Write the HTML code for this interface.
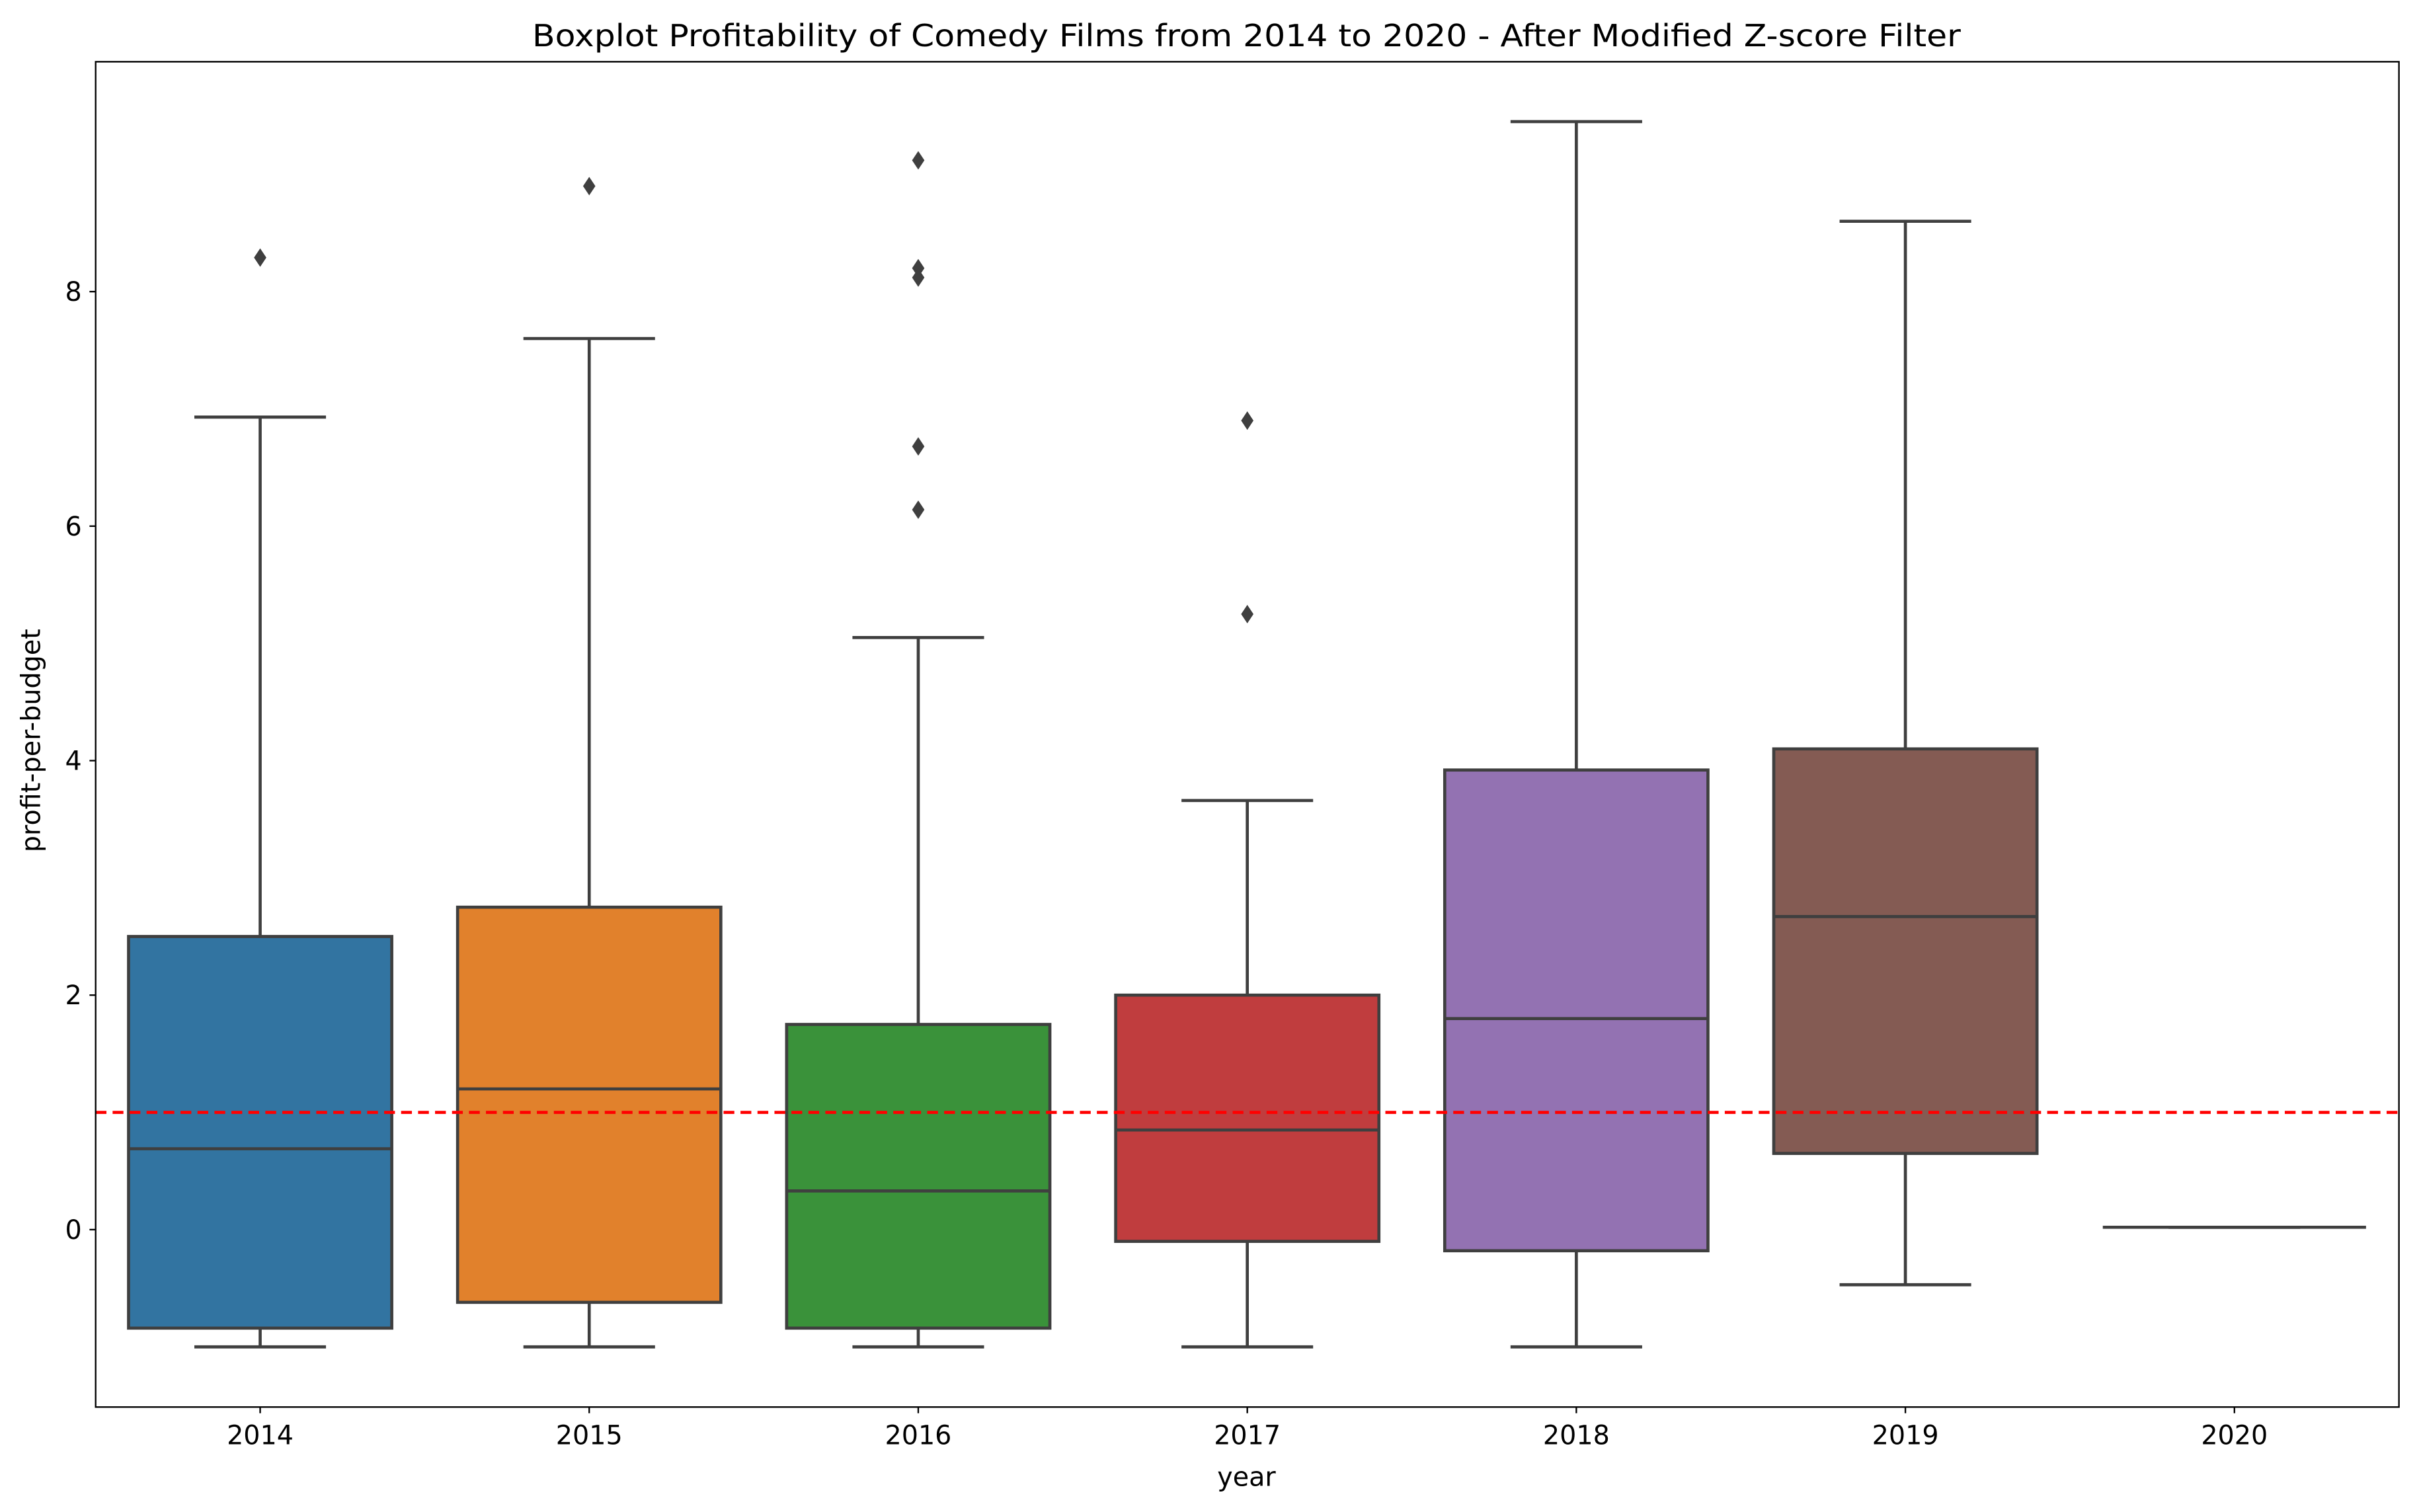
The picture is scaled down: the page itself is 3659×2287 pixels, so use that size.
<!DOCTYPE html>
<html><head><meta charset="utf-8">
<style>
html,body{margin:0;padding:0;background:#fff;}
svg{display:block;}
text{font-family:"DejaVu Sans","Liberation Sans",sans-serif;fill:#000;}
</style></head>
<body>
<svg id="chart" width="3659" height="2287" viewBox="0 0 1568 980" xmlns="http://www.w3.org/2000/svg">
<rect width="1568" height="980" fill="#fff"/>
<text x="808" y="30" font-size="20" text-anchor="middle" textLength="926" lengthAdjust="spacingAndGlyphs">Boxplot Profitability of Comedy Films from 2014 to 2020 - After Modified Z-score Filter</text>
<g id="plot"></g>
<rect x="62" y="40" width="1493" height="872" fill="none" stroke="#000" stroke-width="1"/>
<text x="808" y="963" font-size="17" text-anchor="middle">year</text>
<text x="26" y="480" font-size="17" text-anchor="middle" transform="rotate(-90 26 480)">profit-per-budget</text>
</svg>
<script>
const years = ["2014","2015","2016","2017","2018","2019","2020"];
const whiskerLow = [-1.0, -1.0, -1.0, -1.0, -1.0, -0.47, 0.02];
const q1 = [-0.84, -0.62, -0.84, -0.1, -0.18, 0.65, 0.02];
const medians = [0.69, 1.2, 0.33, 0.85, 1.8, 2.67, 0.02];
const q3 = [2.5, 2.75, 1.75, 2.0, 3.92, 4.1, 0.02];
const whiskerHigh = [6.93, 7.6, 5.05, 3.66, 9.45, 8.6, 0.02];
const outliers = [[8.29],[8.9],[9.12,8.2,8.12,6.68,6.14],[6.9,5.25],[],[],[]];
const yTicks = [0,2,4,6,8];
const refLine = 1;
const colors = ["#3274a1","#e1812c","#3a923a","#c03d3e","#9372b2","#845b53","#d684bd"];

const NS = "http://www.w3.org/2000/svg";
const plot = document.getElementById("plot");
const X0 = 62, X1 = 1555, Y0 = 40, Y1 = 912;
const yScale = v => 797 - 76 * v;
const band = (X1 - X0) / years.length;
const xScale = i => X0 + band * (i + 0.5);
function mk(tag, attrs){const e=document.createElementNS(NS,tag);for(const k in attrs)e.setAttribute(k,attrs[k]);plot.appendChild(e);return e;}

yTicks.forEach(t=>{
  const y=yScale(t);
  const tk=mk("line",{x1:X0-4,x2:X0,y1:y,y2:y,stroke:"#000","stroke-width":1});
  
  
  const lb=mk("text",{x:X0-9,y:y+6,"font-size":17,"text-anchor":"end"});
  lb.textContent=t;
  
  
});

years.forEach((yr,i)=>{
  const cx=xScale(i), w=band*0.8, cw=w/2;
  const g=document.createElementNS(NS,"g");plot.appendChild(g);
  
  
  const add=(tag,a)=>{const e=document.createElementNS(NS,tag);for(const k in a)e.setAttribute(k,a[k]);g.appendChild(e);return e;};
  const st={stroke:"#3f3f3f","stroke-width":2,fill:"none"};
  add("line",Object.assign({x1:cx,x2:cx,y1:yScale(whiskerLow[i]),y2:yScale(q1[i])},st));
  add("line",Object.assign({x1:cx,x2:cx,y1:yScale(q3[i]),y2:yScale(whiskerHigh[i])},st));
  add("line",Object.assign({x1:cx-cw/2,x2:cx+cw/2,y1:yScale(whiskerLow[i]),y2:yScale(whiskerLow[i])},st));
  add("line",Object.assign({x1:cx-cw/2,x2:cx+cw/2,y1:yScale(whiskerHigh[i]),y2:yScale(whiskerHigh[i])},st));
  add("rect",{x:cx-w/2,y:yScale(q3[i]),width:w,height:Math.max(0,yScale(q1[i])-yScale(q3[i])),fill:colors[i],stroke:"#3f3f3f","stroke-width":2});
  add("line",Object.assign({x1:cx-w/2,x2:cx+w/2,y1:yScale(medians[i]),y2:yScale(medians[i])},st));
  outliers[i].forEach(v=>{
    const y=yScale(v);
    const d=add("polygon",{points:`${cx},${y-6} ${cx+4},${y} ${cx},${y+6} ${cx-4},${y}`,fill:"#3f3f3f"});
    
    
  });
  const tk=mk("line",{x1:cx,x2:cx,y1:Y1,y2:Y1+4,stroke:"#000","stroke-width":1});
  
  
  const lb=mk("text",{x:cx,y:Y1+24,"font-size":17,"text-anchor":"middle"});
  lb.textContent=yr;
  
  
});

const rl=mk("line",{x1:X0,x2:X1,y1:yScale(refLine),y2:yScale(refLine),stroke:"#ff0000","stroke-width":2,"stroke-dasharray":"7,4"});


</script>
</body></html>
